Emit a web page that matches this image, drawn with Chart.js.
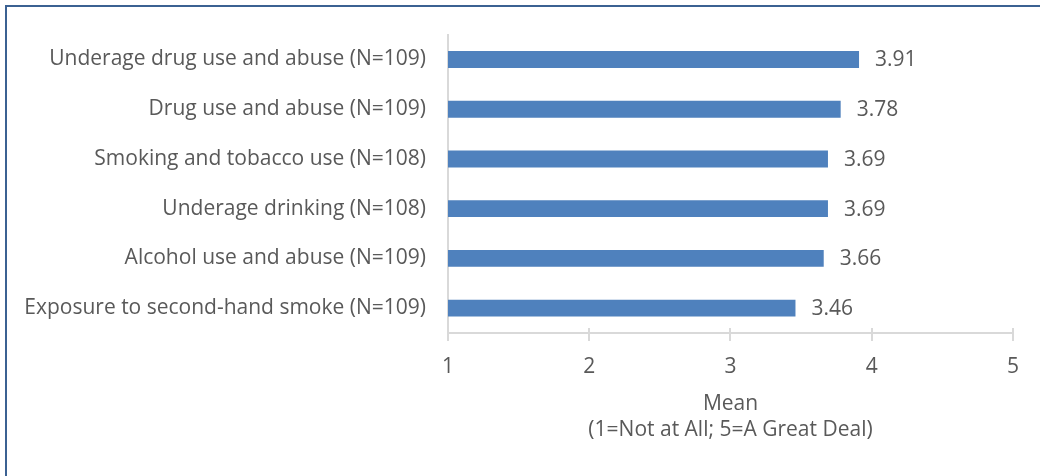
<!DOCTYPE html>
<html><head><meta charset="utf-8">
<script src="https://cdn.jsdelivr.net/npm/chart.js@4.4.0/dist/chart.umd.min.js"></script>
<style>
html,body{margin:0;padding:0;background:#fff;}
#wrap{position:absolute;left:0;top:0;width:1040px;height:476px;}
#frame{position:absolute;left:5px;top:5px;width:1035px;height:471px;border-left:2px solid #3B6192;border-top:2px solid #3B6192;pointer-events:none;}
canvas{position:absolute;left:0;top:0;}
</style></head>
<body>
<div id="wrap"><canvas id="c" width="1040" height="476"></canvas><div id="frame"></div></div>
<script>
const categories = [
  "Underage drug use and abuse (N=109)",
  "Drug use and abuse (N=109)",
  "Smoking and tobacco use (N=108)",
  "Underage drinking (N=108)",
  "Alcohol use and abuse (N=109)",
  "Exposure to second-hand smoke (N=109)"
];
const means = [3.91, 3.78, 3.69, 3.69, 3.66, 3.46];
const xTicks = [1, 2, 3, 4, 5];
const axisTitle = ["Mean", "(1=Not at All; 5=A Great Deal)"];

const FONT = "'Open Sans', 'Liberation Sans', sans-serif";
const TXT = "#595959";
const AX = "#D9D9D9";

const valueLabels = {
  id: "valueLabels",
  afterDatasetsDraw(chart) {
    const ctx = chart.ctx;
    const meta = chart.getDatasetMeta(0);
    ctx.save();
    ctx.font = "21px " + FONT;
    ctx.fillStyle = TXT;
    ctx.textAlign = "left";
    ctx.textBaseline = "middle";
    meta.data.forEach((bar, i) => {
      ctx.fillText(means[i].toFixed(2), bar.x + 16, bar.y + 1);
    });
    ctx.restore();
  }
};
const xTickMarks = {
  id: "xTickMarks",
  afterDraw(chart) {
    const ctx = chart.ctx;
    const sx = chart.scales.x;
    const y0 = chart.chartArea.bottom;
    ctx.save();
    ctx.strokeStyle = AX;
    ctx.lineWidth = 2;
    xTicks.forEach(v => {
      const px = Math.round(sx.getPixelForValue(v));
      ctx.beginPath();
      ctx.moveTo(px, y0 - 5);
      ctx.lineTo(px, y0 + 8);
      ctx.stroke();
    });
    ctx.restore();
  }
};

new Chart(document.getElementById("c"), {
  type: "bar",
  data: {
    labels: categories,
    datasets: [{
      data: means,
      backgroundColor: "#4F81BD",
      borderWidth: 0,
      base: 1,
      barPercentage: 0.68,
      categoryPercentage: 0.5
    }]
  },
  options: {
    indexAxis: "y",
    responsive: false,
    animation: false,
    devicePixelRatio: 1,
    layout: { padding: { left: 0, right: 24, top: 33, bottom: 29 } },
    plugins: { legend: { display: false }, tooltip: { enabled: false } },
    scales: {
      x: {
        min: 1, max: 5,
        afterBuildTicks(s) { s.ticks = xTicks.map(v => ({ value: v })); },
        afterFit(s) { s.height = 476 - 333 - 29; },
        grid: { display: false, drawTicks: false },
        border: { display: true, color: AX, width: 2 },
        ticks: { color: TXT, font: { family: FONT, size: 21 }, padding: 21 },
        title: {
          display: true, text: axisTitle, color: TXT,
          font: { family: FONT, size: 21, lineHeight: 1.24 }, padding: { top: 14 }
        }
      },
      y: {
        afterFit(s) { s.width = 448; },
        grid: { display: false, drawTicks: false },
        border: { display: true, color: AX, width: 2 },
        ticks: { color: TXT, font: { family: FONT, size: 21 }, padding: 22 }
      }
    }
  },
  plugins: [valueLabels, xTickMarks]
});
</script>
</body></html>
